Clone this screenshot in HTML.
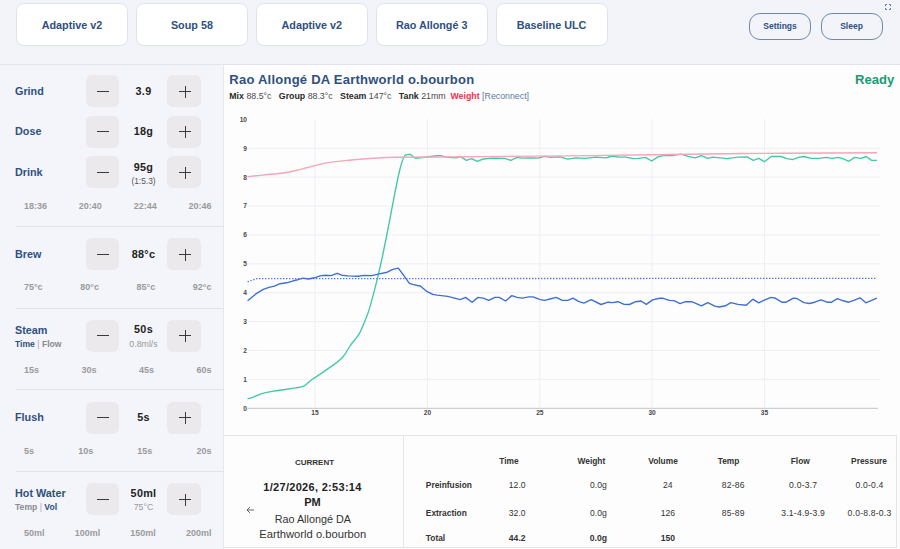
<!DOCTYPE html>
<html><head><meta charset="utf-8"><style>
html,body{margin:0;padding:0;width:900px;height:549px;overflow:hidden;background:#f3f4f9;}
body{position:relative;font-family:"Liberation Sans",sans-serif;}
.t{position:absolute;white-space:nowrap;line-height:1;}
.ticks{display:flex;justify-content:space-between;color:#9a9a9a;font-weight:700;}
</style></head><body>
<div style="position:absolute;left:16.0px;top:3px;width:112.19999999999999px;height:43px;box-sizing:border-box;background:#fff;border:1px solid #dfe2ea;border-radius:8px;"></div>
<div class="t" style="left:72.00px;top:19.82px;font-size:10.8px;font-weight:700;color:#2f5080;transform:translateX(-50%);">Adaptive v2</div>
<div style="position:absolute;left:135.9px;top:3px;width:112.20000000000002px;height:43px;box-sizing:border-box;background:#fff;border:1px solid #dfe2ea;border-radius:8px;"></div>
<div class="t" style="left:191.90px;top:19.82px;font-size:10.8px;font-weight:700;color:#2f5080;transform:translateX(-50%);">Soup 58</div>
<div style="position:absolute;left:255.8px;top:3px;width:112.19999999999999px;height:43px;box-sizing:border-box;background:#fff;border:1px solid #dfe2ea;border-radius:8px;"></div>
<div class="t" style="left:311.80px;top:19.82px;font-size:10.8px;font-weight:700;color:#2f5080;transform:translateX(-50%);">Adaptive v2</div>
<div style="position:absolute;left:375.7px;top:3px;width:112.19999999999999px;height:43px;box-sizing:border-box;background:#fff;border:1px solid #dfe2ea;border-radius:8px;"></div>
<div class="t" style="left:431.70px;top:19.82px;font-size:10.8px;font-weight:700;color:#2f5080;transform:translateX(-50%);">Rao Allongé 3</div>
<div style="position:absolute;left:495.6px;top:3px;width:112.20000000000005px;height:43px;box-sizing:border-box;background:#fff;border:1px solid #dfe2ea;border-radius:8px;"></div>
<div class="t" style="left:551.60px;top:19.82px;font-size:10.8px;font-weight:700;color:#2f5080;transform:translateX(-50%);">Baseline ULC</div>
<div style="position:absolute;left:749px;top:13px;width:62px;height:27px;box-sizing:border-box;border:1px solid #7088a8;border-radius:11px;"></div>
<div class="t" style="left:780.00px;top:22.22px;font-size:8.5px;font-weight:700;color:#2f5080;transform:translateX(-50%);">Settings</div>
<div style="position:absolute;left:820.5px;top:13px;width:62.0px;height:27px;box-sizing:border-box;border:1px solid #7088a8;border-radius:11px;"></div>
<div class="t" style="left:851.50px;top:22.22px;font-size:8.5px;font-weight:700;color:#2f5080;transform:translateX(-50%);">Sleep</div>
<svg style="position:absolute;left:885.3px;top:4px" width="6" height="6" viewBox="0 0 6 6" fill="none" stroke="#5d7ba0" stroke-width="1"><path d="M0.5 2V0.5H2M4 0.5H5.5V2M5.5 4V5.5H4M2 5.5H0.5V4"/></svg>
<div style="position:absolute;left:0px;top:63.5px;width:900px;height:1.5px;box-sizing:border-box;background:#e4e5ec;"></div>
<div style="position:absolute;left:0px;top:65px;width:223px;height:484px;box-sizing:border-box;background:#f4f5fa;"></div>
<div style="position:absolute;left:223px;top:65px;width:1px;height:484px;box-sizing:border-box;background:#e6e7ed;"></div>
<div class="t" style="left:15.00px;top:85.82px;font-size:10.8px;font-weight:700;color:#2f5080;">Grind</div>
<div style="position:absolute;left:86px;top:75px;width:33px;height:32px;box-sizing:border-box;background:#ece9ed;border-radius:6px;"></div>
<div style="position:absolute;left:167px;top:75px;width:34px;height:32px;box-sizing:border-box;background:#ece9ed;border-radius:6px;"></div>
<div style="position:absolute;left:96.5px;top:91px;width:12.0px;height:1.0999999999999943px;box-sizing:border-box;background:#3a3a3a;"></div>
<div style="position:absolute;left:179px;top:91px;width:12px;height:1.0999999999999943px;box-sizing:border-box;background:#3a3a3a;"></div>
<div style="position:absolute;left:184.5px;top:85.5px;width:1.0999999999999943px;height:12.0px;box-sizing:border-box;background:#3a3a3a;"></div>
<div class="t" style="left:143.50px;top:85.82px;font-size:10.8px;font-weight:700;color:#222;transform:translateX(-50%);letter-spacing:0.3px;">3.9</div>
<div class="t" style="left:15.00px;top:126.12px;font-size:10.8px;font-weight:700;color:#2f5080;">Dose</div>
<div style="position:absolute;left:86px;top:115.5px;width:33px;height:32.0px;box-sizing:border-box;background:#ece9ed;border-radius:6px;"></div>
<div style="position:absolute;left:167px;top:115.5px;width:34px;height:32.0px;box-sizing:border-box;background:#ece9ed;border-radius:6px;"></div>
<div style="position:absolute;left:96.5px;top:131px;width:12.0px;height:1.0999999999999943px;box-sizing:border-box;background:#3a3a3a;"></div>
<div style="position:absolute;left:179px;top:131px;width:12px;height:1.0999999999999943px;box-sizing:border-box;background:#3a3a3a;"></div>
<div style="position:absolute;left:184.5px;top:125.5px;width:1.0999999999999943px;height:12.0px;box-sizing:border-box;background:#3a3a3a;"></div>
<div class="t" style="left:143.50px;top:126.32px;font-size:10.8px;font-weight:700;color:#222;transform:translateX(-50%);letter-spacing:0.3px;">18g</div>
<div class="t" style="left:15.00px;top:166.82px;font-size:10.8px;font-weight:700;color:#2f5080;">Drink</div>
<div style="position:absolute;left:86px;top:156px;width:33px;height:32px;box-sizing:border-box;background:#ece9ed;border-radius:6px;"></div>
<div style="position:absolute;left:167px;top:156px;width:34px;height:32px;box-sizing:border-box;background:#ece9ed;border-radius:6px;"></div>
<div style="position:absolute;left:96.5px;top:172px;width:12.0px;height:1.0999999999999943px;box-sizing:border-box;background:#3a3a3a;"></div>
<div style="position:absolute;left:179px;top:172px;width:12px;height:1.0999999999999943px;box-sizing:border-box;background:#3a3a3a;"></div>
<div style="position:absolute;left:184.5px;top:166.5px;width:1.0999999999999943px;height:12.0px;box-sizing:border-box;background:#3a3a3a;"></div>
<div class="t" style="left:143.50px;top:161.52px;font-size:10.8px;font-weight:700;color:#222;transform:translateX(-50%);letter-spacing:0.3px;">95g</div>
<div class="t" style="left:143.50px;top:176.57px;font-size:8.4px;font-weight:400;color:#555;transform:translateX(-50%);">(1:5.3)</div>
<div class="t ticks" style="left:24px;width:187.5px;top:201.88px;font-size:9px;"><span>18:36</span><span>20:40</span><span>22:44</span><span>20:46</span></div>
<div style="position:absolute;left:16px;top:225.7px;width:207px;height:1.0px;box-sizing:border-box;background:#e2e3ea;"></div>
<div class="t" style="left:15.00px;top:248.82px;font-size:10.8px;font-weight:700;color:#2f5080;">Brew</div>
<div style="position:absolute;left:86px;top:238px;width:33px;height:32px;box-sizing:border-box;background:#ece9ed;border-radius:6px;"></div>
<div style="position:absolute;left:167px;top:238px;width:34px;height:32px;box-sizing:border-box;background:#ece9ed;border-radius:6px;"></div>
<div style="position:absolute;left:96.5px;top:254px;width:12.0px;height:1.0999999999999943px;box-sizing:border-box;background:#3a3a3a;"></div>
<div style="position:absolute;left:179px;top:254px;width:12px;height:1.0999999999999943px;box-sizing:border-box;background:#3a3a3a;"></div>
<div style="position:absolute;left:184.5px;top:248.5px;width:1.0999999999999943px;height:12.0px;box-sizing:border-box;background:#3a3a3a;"></div>
<div class="t" style="left:143.50px;top:248.82px;font-size:10.8px;font-weight:700;color:#222;transform:translateX(-50%);letter-spacing:0.3px;">88°c</div>
<div class="t ticks" style="left:24px;width:187.5px;top:282.88px;font-size:9px;"><span>75°c</span><span>80°c</span><span>85°c</span><span>92°c</span></div>
<div style="position:absolute;left:16px;top:307.7px;width:207px;height:1.0px;box-sizing:border-box;background:#e2e3ea;"></div>
<div class="t" style="left:15.00px;top:324.82px;font-size:10.8px;font-weight:700;color:#2f5080;">Steam</div>
<div class="t" style="left:15.00px;top:339.67px;font-size:8.6px;font-weight:400;color:#888;"><span style="color:#2f5080;font-weight:700">Time</span> <span style="color:#aaa;font-weight:300">|</span> <span style="color:#8a8a8a;font-weight:700">Flow</span></div>
<div style="position:absolute;left:86px;top:319.6px;width:33px;height:32.0px;box-sizing:border-box;background:#ece9ed;border-radius:6px;"></div>
<div style="position:absolute;left:167px;top:319.6px;width:34px;height:32.0px;box-sizing:border-box;background:#ece9ed;border-radius:6px;"></div>
<div style="position:absolute;left:96.5px;top:335px;width:12.0px;height:1.1000000000000227px;box-sizing:border-box;background:#3a3a3a;"></div>
<div style="position:absolute;left:179px;top:335px;width:12px;height:1.1000000000000227px;box-sizing:border-box;background:#3a3a3a;"></div>
<div style="position:absolute;left:184.5px;top:329.5px;width:1.0999999999999943px;height:12.0px;box-sizing:border-box;background:#3a3a3a;"></div>
<div class="t" style="left:143.50px;top:324.12px;font-size:10.8px;font-weight:700;color:#222;transform:translateX(-50%);letter-spacing:0.3px;">50s</div>
<div class="t" style="left:143.50px;top:339.58px;font-size:8.8px;font-weight:400;color:#999;transform:translateX(-50%);">0.8ml/s</div>
<div class="t ticks" style="left:24px;width:187.5px;top:366.38px;font-size:9px;"><span>15s</span><span>30s</span><span>45s</span><span>60s</span></div>
<div style="position:absolute;left:16px;top:389.3px;width:207px;height:1.0px;box-sizing:border-box;background:#e2e3ea;"></div>
<div class="t" style="left:15.00px;top:412.32px;font-size:10.8px;font-weight:700;color:#2f5080;">Flush</div>
<div style="position:absolute;left:86px;top:401.5px;width:33px;height:32.0px;box-sizing:border-box;background:#ece9ed;border-radius:6px;"></div>
<div style="position:absolute;left:167px;top:401.5px;width:34px;height:32.0px;box-sizing:border-box;background:#ece9ed;border-radius:6px;"></div>
<div style="position:absolute;left:96.5px;top:417px;width:12.0px;height:1.1000000000000227px;box-sizing:border-box;background:#3a3a3a;"></div>
<div style="position:absolute;left:179px;top:417px;width:12px;height:1.1000000000000227px;box-sizing:border-box;background:#3a3a3a;"></div>
<div style="position:absolute;left:184.5px;top:411.5px;width:1.0999999999999943px;height:12.0px;box-sizing:border-box;background:#3a3a3a;"></div>
<div class="t" style="left:143.50px;top:412.32px;font-size:10.8px;font-weight:700;color:#222;transform:translateX(-50%);letter-spacing:0.3px;">5s</div>
<div class="t ticks" style="left:24px;width:187.5px;top:447.38px;font-size:9px;"><span>5s</span><span>10s</span><span>15s</span><span>20s</span></div>
<div style="position:absolute;left:16px;top:470.9px;width:207px;height:1.0px;box-sizing:border-box;background:#e2e3ea;"></div>
<div class="t" style="left:15.00px;top:488.12px;font-size:10.8px;font-weight:700;color:#2f5080;">Hot Water</div>
<div class="t" style="left:15.00px;top:502.67px;font-size:8.6px;font-weight:400;color:#888;"><span style="color:#8a8a8a;font-weight:700">Temp</span> <span style="color:#aaa;font-weight:300">|</span> <span style="color:#2f5080;font-weight:700">Vol</span></div>
<div style="position:absolute;left:86px;top:483px;width:33px;height:32px;box-sizing:border-box;background:#ece9ed;border-radius:6px;"></div>
<div style="position:absolute;left:167px;top:483px;width:34px;height:32px;box-sizing:border-box;background:#ece9ed;border-radius:6px;"></div>
<div style="position:absolute;left:96.5px;top:499px;width:12.0px;height:1.1000000000000227px;box-sizing:border-box;background:#3a3a3a;"></div>
<div style="position:absolute;left:179px;top:499px;width:12px;height:1.1000000000000227px;box-sizing:border-box;background:#3a3a3a;"></div>
<div style="position:absolute;left:184.5px;top:493.5px;width:1.0999999999999943px;height:12.0px;box-sizing:border-box;background:#3a3a3a;"></div>
<div class="t" style="left:143.50px;top:487.82px;font-size:10.8px;font-weight:700;color:#222;transform:translateX(-50%);letter-spacing:0.3px;">50ml</div>
<div class="t" style="left:143.50px;top:502.58px;font-size:8.8px;font-weight:400;color:#999;transform:translateX(-50%);">75°C</div>
<div class="t ticks" style="left:24px;width:187.5px;top:528.78px;font-size:9px;"><span>50ml</span><span>100ml</span><span>150ml</span><span>200ml</span></div>
<div style="position:absolute;left:224px;top:65px;width:676px;height:484px;box-sizing:border-box;background:#fefdfe;"></div>
<div class="t" style="left:229.30px;top:72.96px;font-size:13px;font-weight:700;color:#2f5080;letter-spacing:0.24px;">Rao Allongé DA Earthworld o.bourbon</div>
<div class="t" style="left:894.40px;top:72.91px;font-size:13.1px;font-weight:700;color:#189b6e;transform:translateX(-100%);">Ready</div>
<div class="t" style="left:229.30px;top:91.78px;font-size:8.8px;font-weight:400;color:#4a4a4a;"><b style="color:#2a2a2a">Mix</b> 88.5°c&nbsp;&nbsp; <b style="color:#2a2a2a">Group</b> 88.3°c&nbsp;&nbsp; <b style="color:#2a2a2a">Steam</b> 147°c&nbsp;&nbsp; <b style="color:#2a2a2a">Tank</b> 21mm&nbsp;&nbsp;<b style="color:#e8334a">Weight</b> <span style="color:#5b7aa3">[Reconnect]</span></div>
<svg style="position:absolute;left:0;top:0" width="900" height="549" viewBox="0 0 900 549">
<path d="M248 379.4H880 M248 350.5H880 M248 321.6H880 M248 292.7H880 M248 263.8H880 M248 234.9H880 M248 206.0H880 M248 177.1H880 M248 148.2H880 M315.0 119V408 M427.4 119V408 M539.8 119V408 M652.1 119V408 M764.5 119V408" stroke="#eeeef3" stroke-width="1" fill="none"/>
<path d="M247.5 408.3H878" stroke="#cdcdd2" stroke-width="1.2" fill="none"/>
<text x="247" y="410.7" text-anchor="end" font-size="6.6" font-weight="700" fill="#484848">0</text>
<text x="247" y="381.8" text-anchor="end" font-size="6.6" font-weight="700" fill="#484848">1</text>
<text x="247" y="352.9" text-anchor="end" font-size="6.6" font-weight="700" fill="#484848">2</text>
<text x="247" y="324.0" text-anchor="end" font-size="6.6" font-weight="700" fill="#484848">3</text>
<text x="247" y="295.1" text-anchor="end" font-size="6.6" font-weight="700" fill="#484848">4</text>
<text x="247" y="266.2" text-anchor="end" font-size="6.6" font-weight="700" fill="#484848">5</text>
<text x="247" y="237.3" text-anchor="end" font-size="6.6" font-weight="700" fill="#484848">6</text>
<text x="247" y="208.4" text-anchor="end" font-size="6.6" font-weight="700" fill="#484848">7</text>
<text x="247" y="179.5" text-anchor="end" font-size="6.6" font-weight="700" fill="#484848">8</text>
<text x="247" y="150.6" text-anchor="end" font-size="6.6" font-weight="700" fill="#484848">9</text>
<text x="247" y="121.7" text-anchor="end" font-size="6.6" font-weight="700" fill="#484848">10</text>
<text x="315.0" y="415.2" text-anchor="middle" font-size="6.6" font-weight="700" fill="#484848">15</text>
<text x="427.4" y="415.2" text-anchor="middle" font-size="6.6" font-weight="700" fill="#484848">20</text>
<text x="539.8" y="415.2" text-anchor="middle" font-size="6.6" font-weight="700" fill="#484848">25</text>
<text x="652.1" y="415.2" text-anchor="middle" font-size="6.6" font-weight="700" fill="#484848">30</text>
<text x="764.5" y="415.2" text-anchor="middle" font-size="6.6" font-weight="700" fill="#484848">35</text>
<polyline points="247.6,281.7 256.7,278.6 877.0,278.4" fill="none" stroke="#3f6fd3" stroke-width="1.3" stroke-dasharray="1.3 1.7"/>
<path d="M247.5 398.8 C248.3 398.6 250.2 398.2 252.6 397.4 C255.0 396.5 258.3 394.7 261.8 393.7 C265.3 392.7 269.6 391.9 273.5 391.2 C277.4 390.5 281.6 390.1 285.2 389.5 C288.8 388.9 292.2 388.4 295.3 387.9 C298.4 387.3 300.9 387.6 303.7 386.2 C306.5 384.8 308.1 382.3 312.0 379.5 C315.9 376.7 322.1 373.0 327.1 369.4 C332.1 365.8 338.3 361.8 342.2 357.7 C346.1 353.6 347.8 349.0 350.6 345.1 C353.4 341.2 356.5 338.5 359.0 334.2 C361.5 329.9 363.7 324.0 365.5 319.5 C367.3 315.0 367.7 314.6 369.8 307.4 C371.9 300.2 375.3 287.7 378.0 276.2 C380.7 264.7 383.4 251.9 386.1 238.5 C388.8 225.1 392.1 207.2 394.3 195.9 C396.5 184.7 398.1 176.9 399.5 171.0 C400.9 165.1 401.6 163.1 402.5 160.5 C403.4 157.9 404.4 156.4 404.8 155.6 L406.7 154.7 L410.3 154.3 L412.7 156.3 L415.3 158.3 L426.7 157.0 L436.7 155.7 L440.7 155.6 L447.8 157.4 L456.7 157.8 L460.2 156.4 L466.4 160.4 L471.8 158.7 L477.1 161.3 L483.3 159.0 L492.2 158.1 L504.7 158.3 L510.9 160.4 L517.1 157.4 L522.4 158.1 L531.3 157.8 L538.4 158.1 L544.7 156.4 L550.9 157.4 L559.8 156.9 L567.8 159.2 L575.8 157.8 L585.0 158.3 L595.7 157.2 L606.3 157.8 L611.7 156.0 L618.8 157.1 L625.9 157.2 L633.0 158.7 L638.3 158.3 L645.4 157.4 L651.7 161.0 L657.9 156.9 L663.2 155.5 L672.1 155.5 L681.0 154.2 L688.1 156.4 L695.2 157.8 L701.4 155.6 L707.7 158.3 L713.0 157.2 L727.2 158.7 L737.9 157.2 L747.1 156.9 L753.3 160.4 L758.7 158.3 L764.5 161.7 L771.1 156.5 L780.9 156.5 L786.2 158.3 L792.4 159.6 L798.7 157.4 L804.0 156.5 L811.1 158.3 L819.1 158.3 L826.2 157.4 L832.4 158.3 L837.8 157.4 L843.1 158.7 L848.8 161.3 L854.7 157.4 L860.9 158.3 L866.2 156.5 L871.6 160.4 L876.9 160.4" fill="none" stroke="#42c8a6" stroke-width="1.35" stroke-linejoin="round"/>
<path d="M247.5 176.8 C249.9 176.5 255.5 175.9 262.2 175.1 C268.9 174.3 280.4 173.4 287.8 172.2 C295.2 171.0 300.2 169.4 306.7 167.8 C313.2 166.2 319.3 164.2 326.7 162.9 C334.1 161.6 343.2 160.8 351.0 160.0 C358.8 159.2 365.9 158.6 373.3 158.2 C380.7 157.8 384.5 157.5 395.6 157.3 C406.7 157.1 407.6 157.3 440.0 157.0 C472.4 156.7 539.2 156.2 590.0 155.6 C640.8 155.0 697.2 154.0 745.0 153.5 C792.8 153.0 855.0 152.9 877.0 152.8" fill="none" stroke="#f6a6b6" stroke-width="1.4"/>
<polyline points="247.6,300.8 256.7,293.3 263.3,289.4 268.9,287.4 274.4,286.1 280.0,283.7 286.7,282.8 293.3,280.8 297.8,279.7 303.3,278.1 308.3,279.0 314.4,277.8 320.0,275.9 325.6,275.2 331.1,275.6 337.2,273.3 341.7,275.2 348.3,275.9 358.3,276.3 363.9,275.4 371.7,275.6 379.4,273.9 387.2,272.2 392.8,269.4 398.3,268.1 403.9,275.6 409.4,283.3 412.8,284.4 420.6,286.3 427.2,291.7 432.8,294.4 437.1,295.1 447.8,296.4 460.2,299.6 465.6,297.4 472.1,302.2 478.0,297.4 483.3,298.1 488.7,300.4 494.9,297.4 499.3,297.4 505.6,301.0 511.8,295.6 517.1,297.4 522.4,298.1 528.7,296.9 533.1,296.9 540.2,299.6 544.7,300.4 550.9,298.7 556.2,297.4 562.4,300.4 567.8,300.4 573.1,298.1 578.4,301.3 583.8,303.1 591.2,299.6 601.0,304.5 608.1,302.2 612.6,302.6 617.9,301.7 624.1,304.4 629.4,304.5 635.7,301.7 641.0,301.0 646.3,304.4 652.6,299.9 659.7,298.3 663.2,298.3 669.4,300.4 673.9,300.6 680.1,303.6 685.4,301.7 691.7,301.7 701.4,305.8 707.7,302.6 714.8,306.1 719.2,307.0 725.4,305.8 730.8,302.6 737.9,304.4 746.2,305.2 752.8,299.2 758.7,302.8 764.9,299.9 771.1,297.4 775.6,298.3 781.8,302.2 786.2,302.2 793.3,298.1 796.9,298.5 804.0,302.6 809.3,303.5 814.7,302.2 820.9,299.9 827.1,302.2 831.6,302.2 837.4,298.7 843.1,300.8 848.8,302.2 853.8,300.4 860.0,297.8 865.9,302.8 871.6,300.4 876.9,298.1" fill="none" stroke="#3f6fd3" stroke-width="1.4" stroke-linejoin="round"/>
</svg>
<div style="position:absolute;left:224px;top:435px;width:673px;height:113px;box-sizing:border-box;border:1px solid #e4e5ea;border-left:none;"></div>
<div style="position:absolute;left:403.3px;top:435px;width:1.1999999999999886px;height:113px;box-sizing:border-box;background:#e4e5ea;"></div>
<div class="t" style="left:314.50px;top:458.96px;font-size:8px;font-weight:700;color:#333;transform:translateX(-50%);">CURRENT</div>
<div class="t" style="left:312.50px;top:481.92px;font-size:11px;font-weight:700;color:#222;transform:translateX(-50%);letter-spacing:0.3px;">1/27/2026, 2:53:14</div>
<div class="t" style="left:312.50px;top:497.42px;font-size:11px;font-weight:700;color:#222;transform:translateX(-50%);">PM</div>
<div class="t" style="left:312.80px;top:513.52px;font-size:10.8px;font-weight:400;color:#333;transform:translateX(-50%);">Rao Allongé DA</div>
<div class="t" style="left:312.80px;top:529.12px;font-size:11.2px;font-weight:400;color:#333;transform:translateX(-50%);">Earthworld o.bourbon</div>
<svg style="position:absolute;left:246px;top:506px" width="9" height="8" viewBox="0 0 9 8" fill="none" stroke="#555" stroke-width="0.9"><path d="M8 4H1M4 1L1 4L4 7"/></svg>
<div class="t" style="left:509.00px;top:456.77px;font-size:8.4px;font-weight:700;color:#333;transform:translateX(-50%);">Time</div>
<div class="t" style="left:591.40px;top:456.77px;font-size:8.4px;font-weight:700;color:#333;transform:translateX(-50%);">Weight</div>
<div class="t" style="left:663.00px;top:456.77px;font-size:8.4px;font-weight:700;color:#333;transform:translateX(-50%);">Volume</div>
<div class="t" style="left:728.50px;top:456.77px;font-size:8.4px;font-weight:700;color:#333;transform:translateX(-50%);">Temp</div>
<div class="t" style="left:800.30px;top:456.77px;font-size:8.4px;font-weight:700;color:#333;transform:translateX(-50%);">Flow</div>
<div class="t" style="left:869.00px;top:456.77px;font-size:8.4px;font-weight:700;color:#333;transform:translateX(-50%);">Pressure</div>
<div class="t" style="left:425.80px;top:480.97px;font-size:8.4px;font-weight:700;color:#333;">Preinfusion</div>
<div class="t" style="left:517.20px;top:480.87px;font-size:8.6px;font-weight:400;color:#333;transform:translateX(-50%);">12.0</div>
<div class="t" style="left:598.40px;top:480.87px;font-size:8.6px;font-weight:400;color:#333;transform:translateX(-50%);">0.0g</div>
<div class="t" style="left:667.80px;top:480.87px;font-size:8.6px;font-weight:400;color:#333;transform:translateX(-50%);">24</div>
<div class="t" style="left:733.20px;top:480.87px;font-size:8.6px;font-weight:400;color:#333;transform:translateX(-50%);letter-spacing:0.2px;">82-86</div>
<div class="t" style="left:803.20px;top:480.87px;font-size:8.6px;font-weight:400;color:#333;transform:translateX(-50%);letter-spacing:0.2px;">0.0-3.7</div>
<div class="t" style="left:869.50px;top:480.87px;font-size:8.6px;font-weight:400;color:#333;transform:translateX(-50%);letter-spacing:0.2px;">0.0-0.4</div>
<div class="t" style="left:425.80px;top:508.77px;font-size:8.4px;font-weight:700;color:#333;">Extraction</div>
<div class="t" style="left:517.20px;top:508.67px;font-size:8.6px;font-weight:400;color:#333;transform:translateX(-50%);">32.0</div>
<div class="t" style="left:598.40px;top:508.67px;font-size:8.6px;font-weight:400;color:#333;transform:translateX(-50%);">0.0g</div>
<div class="t" style="left:667.80px;top:508.67px;font-size:8.6px;font-weight:400;color:#333;transform:translateX(-50%);">126</div>
<div class="t" style="left:733.20px;top:508.67px;font-size:8.6px;font-weight:400;color:#333;transform:translateX(-50%);letter-spacing:0.2px;">85-89</div>
<div class="t" style="left:803.20px;top:508.67px;font-size:8.6px;font-weight:400;color:#333;transform:translateX(-50%);letter-spacing:0.2px;">3.1-4.9-3.9</div>
<div class="t" style="left:869.50px;top:508.67px;font-size:8.6px;font-weight:400;color:#333;transform:translateX(-50%);letter-spacing:0.2px;">0.0-8.8-0.3</div>
<div class="t" style="left:425.80px;top:533.97px;font-size:8.4px;font-weight:700;color:#333;">Total</div>
<div class="t" style="left:517.20px;top:533.87px;font-size:8.6px;font-weight:700;color:#333;transform:translateX(-50%);">44.2</div>
<div class="t" style="left:598.40px;top:533.87px;font-size:8.6px;font-weight:700;color:#333;transform:translateX(-50%);">0.0g</div>
<div class="t" style="left:667.80px;top:533.87px;font-size:8.6px;font-weight:700;color:#333;transform:translateX(-50%);">150</div>
</body></html>
